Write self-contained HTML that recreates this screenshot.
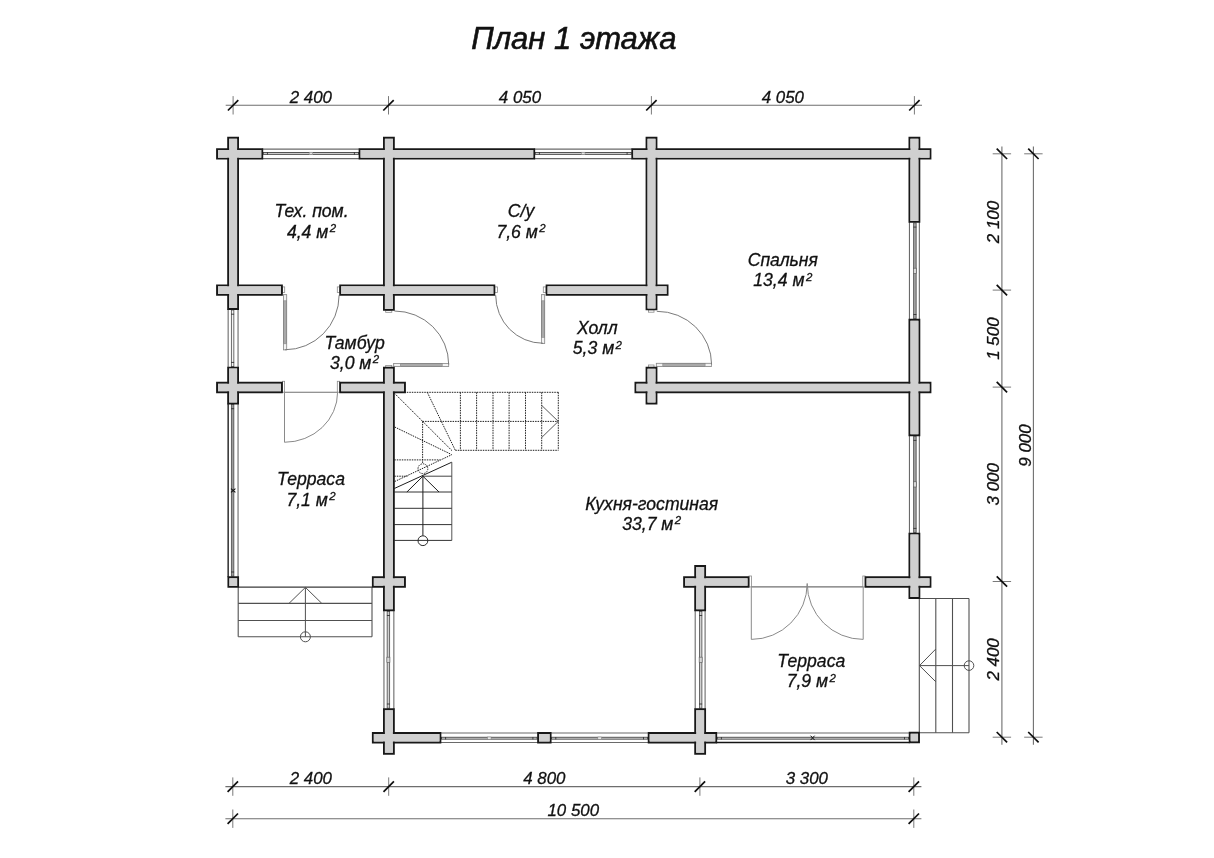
<!DOCTYPE html>
<html><head><meta charset="utf-8"><style>html,body{margin:0;padding:0;background:#fff;}svg{display:block;will-change:transform;}</style></head>
<body><svg width="1214" height="858" viewBox="0 0 1214 858">
<style>
text{font-family:"Liberation Sans",sans-serif;font-style:italic;fill:#111;stroke:#111;stroke-width:0.3px;}
.dm{font-size:16.9px;text-anchor:middle;}
.rm{font-size:17.6px;text-anchor:middle;}
.sup{font-size:11.5px;}
.title{font-size:31px;text-anchor:middle;stroke-width:0.6px;}
</style>
<rect width="1214" height="858" fill="#fff"/>
<text x="573.8" y="48.9" class="title">План 1 этажа</text>
<line x1="225.70" y1="105.30" x2="922.00" y2="105.30" stroke="#6e6e6e" stroke-width="1.1"/><line x1="233.10" y1="96.10" x2="233.10" y2="114.50" stroke="#7a7a7a" stroke-width="1.0"/><line x1="227.90" y1="110.50" x2="238.30" y2="100.10" stroke="#0e0e0e" stroke-width="1.7"/><line x1="388.50" y1="96.10" x2="388.50" y2="114.50" stroke="#7a7a7a" stroke-width="1.0"/><line x1="383.30" y1="110.50" x2="393.70" y2="100.10" stroke="#0e0e0e" stroke-width="1.7"/><line x1="651.40" y1="96.10" x2="651.40" y2="114.50" stroke="#7a7a7a" stroke-width="1.0"/><line x1="646.20" y1="110.50" x2="656.60" y2="100.10" stroke="#0e0e0e" stroke-width="1.7"/><line x1="914.40" y1="96.10" x2="914.40" y2="114.50" stroke="#7a7a7a" stroke-width="1.0"/><line x1="909.20" y1="110.50" x2="919.60" y2="100.10" stroke="#0e0e0e" stroke-width="1.7"/><text x="310.8" y="102.6" class="dm">2 400</text><text x="520.0" y="102.6" class="dm">4 050</text><text x="782.9" y="102.6" class="dm">4 050</text><line x1="225.40" y1="786.60" x2="921.40" y2="786.60" stroke="#6e6e6e" stroke-width="1.1"/><line x1="232.80" y1="777.40" x2="232.80" y2="795.80" stroke="#7a7a7a" stroke-width="1.0"/><line x1="227.60" y1="791.80" x2="238.00" y2="781.40" stroke="#0e0e0e" stroke-width="1.7"/><line x1="388.70" y1="777.40" x2="388.70" y2="795.80" stroke="#7a7a7a" stroke-width="1.0"/><line x1="383.50" y1="791.80" x2="393.90" y2="781.40" stroke="#0e0e0e" stroke-width="1.7"/><line x1="699.90" y1="777.40" x2="699.90" y2="795.80" stroke="#7a7a7a" stroke-width="1.0"/><line x1="694.70" y1="791.80" x2="705.10" y2="781.40" stroke="#0e0e0e" stroke-width="1.7"/><line x1="913.80" y1="777.40" x2="913.80" y2="795.80" stroke="#7a7a7a" stroke-width="1.0"/><line x1="908.60" y1="791.80" x2="919.00" y2="781.40" stroke="#0e0e0e" stroke-width="1.7"/><text x="310.8" y="783.9" class="dm">2 400</text><text x="544.3" y="783.9" class="dm">4 800</text><text x="806.8" y="783.9" class="dm">3 300</text><line x1="225.40" y1="818.70" x2="921.40" y2="818.70" stroke="#6e6e6e" stroke-width="1.1"/><line x1="232.80" y1="809.50" x2="232.80" y2="827.90" stroke="#7a7a7a" stroke-width="1.0"/><line x1="227.60" y1="823.90" x2="238.00" y2="813.50" stroke="#0e0e0e" stroke-width="1.7"/><line x1="913.80" y1="809.50" x2="913.80" y2="827.90" stroke="#7a7a7a" stroke-width="1.0"/><line x1="908.60" y1="823.90" x2="919.00" y2="813.50" stroke="#0e0e0e" stroke-width="1.7"/><text x="573.3" y="816.0" class="dm">10 500</text><line x1="1001.90" y1="146.40" x2="1001.90" y2="744.80" stroke="#6e6e6e" stroke-width="1.1"/><line x1="992.70" y1="153.80" x2="1011.10" y2="153.80" stroke="#7a7a7a" stroke-width="1.0"/><line x1="996.70" y1="148.60" x2="1007.10" y2="159.00" stroke="#0e0e0e" stroke-width="1.7"/><line x1="992.70" y1="290.10" x2="1011.10" y2="290.10" stroke="#7a7a7a" stroke-width="1.0"/><line x1="996.70" y1="284.90" x2="1007.10" y2="295.30" stroke="#0e0e0e" stroke-width="1.7"/><line x1="992.70" y1="387.10" x2="1011.10" y2="387.10" stroke="#7a7a7a" stroke-width="1.0"/><line x1="996.70" y1="381.90" x2="1007.10" y2="392.30" stroke="#0e0e0e" stroke-width="1.7"/><line x1="992.70" y1="581.50" x2="1011.10" y2="581.50" stroke="#7a7a7a" stroke-width="1.0"/><line x1="996.70" y1="576.30" x2="1007.10" y2="586.70" stroke="#0e0e0e" stroke-width="1.7"/><line x1="992.70" y1="737.20" x2="1011.10" y2="737.20" stroke="#7a7a7a" stroke-width="1.0"/><line x1="996.70" y1="732.00" x2="1007.10" y2="742.40" stroke="#0e0e0e" stroke-width="1.7"/><text x="0" y="0" class="dm" transform="translate(999.4 222.0) rotate(-90)">2 100</text><text x="0" y="0" class="dm" transform="translate(999.4 338.6) rotate(-90)">1 500</text><text x="0" y="0" class="dm" transform="translate(999.4 484.3) rotate(-90)">3 000</text><text x="0" y="0" class="dm" transform="translate(999.4 659.4) rotate(-90)">2 400</text><line x1="1033.40" y1="146.40" x2="1033.40" y2="744.80" stroke="#6e6e6e" stroke-width="1.1"/><line x1="1024.20" y1="153.80" x2="1042.60" y2="153.80" stroke="#7a7a7a" stroke-width="1.0"/><line x1="1028.20" y1="148.60" x2="1038.60" y2="159.00" stroke="#0e0e0e" stroke-width="1.7"/><line x1="1024.20" y1="737.20" x2="1042.60" y2="737.20" stroke="#7a7a7a" stroke-width="1.0"/><line x1="1028.20" y1="732.00" x2="1038.60" y2="742.40" stroke="#0e0e0e" stroke-width="1.7"/><text x="0" y="0" class="dm" transform="translate(1030.9 445.5) rotate(-90)">9 000</text>
<line x1="394.30" y1="392.30" x2="558.30" y2="392.30" stroke="#1e1e1e" stroke-width="1.0" stroke-dasharray="1.5 1.0"/><line x1="422.60" y1="421.40" x2="558.30" y2="421.40" stroke="#1e1e1e" stroke-width="1.0" stroke-dasharray="1.5 1.0"/><line x1="455.30" y1="450.30" x2="558.30" y2="450.30" stroke="#1e1e1e" stroke-width="1.0" stroke-dasharray="1.5 1.0"/><line x1="460.40" y1="392.30" x2="460.40" y2="450.30" stroke="#1e1e1e" stroke-width="1.0" stroke-dasharray="1.5 1.0"/><line x1="476.60" y1="392.30" x2="476.60" y2="450.30" stroke="#1e1e1e" stroke-width="1.0" stroke-dasharray="1.5 1.0"/><line x1="493.00" y1="392.30" x2="493.00" y2="450.30" stroke="#1e1e1e" stroke-width="1.0" stroke-dasharray="1.5 1.0"/><line x1="509.10" y1="392.30" x2="509.10" y2="450.30" stroke="#1e1e1e" stroke-width="1.0" stroke-dasharray="1.5 1.0"/><line x1="525.50" y1="392.30" x2="525.50" y2="450.30" stroke="#1e1e1e" stroke-width="1.0" stroke-dasharray="1.5 1.0"/><line x1="541.70" y1="392.30" x2="541.70" y2="450.30" stroke="#1e1e1e" stroke-width="1.0" stroke-dasharray="1.5 1.0"/><line x1="558.30" y1="392.30" x2="558.30" y2="450.30" stroke="#1e1e1e" stroke-width="1.0" stroke-dasharray="1.5 1.0"/><line x1="422.60" y1="421.40" x2="422.60" y2="463.80" stroke="#1e1e1e" stroke-width="1.0" stroke-dasharray="1.5 1.0"/><line x1="394.30" y1="459.90" x2="440.00" y2="459.90" stroke="#1e1e1e" stroke-width="1.0" stroke-dasharray="1.5 1.0"/><line x1="394.30" y1="476.20" x2="407.50" y2="476.20" stroke="#1e1e1e" stroke-width="1.0" stroke-dasharray="1.5 1.0"/><line x1="394.50" y1="393.30" x2="452.00" y2="450.70" stroke="#1e1e1e" stroke-width="1.0" stroke-dasharray="1.5 1.0"/><line x1="427.30" y1="392.30" x2="455.30" y2="450.30" stroke="#1e1e1e" stroke-width="1.0" stroke-dasharray="1.5 1.0"/><line x1="394.70" y1="427.00" x2="451.50" y2="454.50" stroke="#1e1e1e" stroke-width="1.0" stroke-dasharray="1.5 1.0"/><line x1="394.70" y1="481.50" x2="451.80" y2="454.70" stroke="#1e1e1e" stroke-width="1.0" stroke-dasharray="1.5 1.0"/><circle cx="422.9" cy="468.7" r="4.9" fill="none" stroke="#2a2a2a" stroke-width="1" stroke-dasharray="1.5 1.0"/><line x1="541.70" y1="405.40" x2="558.30" y2="421.40" stroke="#444" stroke-width="0.9"/><line x1="541.70" y1="437.50" x2="558.30" y2="421.40" stroke="#444" stroke-width="0.9"/><line x1="394.30" y1="488.50" x2="451.80" y2="462.20" stroke="#1e1e1e" stroke-width="1.0"/><line x1="451.80" y1="462.20" x2="451.80" y2="540.40" stroke="#555" stroke-width="1.0"/><line x1="422.90" y1="476.20" x2="451.80" y2="476.20" stroke="#444" stroke-width="1.0"/><line x1="394.30" y1="492.00" x2="451.80" y2="492.00" stroke="#333" stroke-width="1.0"/><line x1="394.30" y1="508.30" x2="451.80" y2="508.30" stroke="#333" stroke-width="1.0"/><line x1="394.30" y1="524.60" x2="451.80" y2="524.60" stroke="#333" stroke-width="1.0"/><line x1="394.30" y1="540.40" x2="451.80" y2="540.40" stroke="#333" stroke-width="1.0"/><line x1="422.90" y1="476.20" x2="422.90" y2="535.80" stroke="#1e1e1e" stroke-width="1.0"/><circle cx="422.9" cy="540.7" r="4.9" fill="none" stroke="#2a2a2a" stroke-width="1"/><line x1="422.90" y1="476.20" x2="406.90" y2="492.00" stroke="#1e1e1e" stroke-width="1.0"/><line x1="422.90" y1="476.20" x2="439.00" y2="492.00" stroke="#1e1e1e" stroke-width="1.0"/><line x1="238.60" y1="587.10" x2="372.40" y2="587.10" stroke="#3a3a3a" stroke-width="1.3"/><line x1="238.20" y1="603.40" x2="372.00" y2="603.40" stroke="#505050" stroke-width="1.1"/><line x1="238.20" y1="620.50" x2="372.00" y2="620.50" stroke="#505050" stroke-width="1.1"/><line x1="238.20" y1="636.80" x2="372.00" y2="636.80" stroke="#505050" stroke-width="1.1"/><line x1="238.20" y1="587.10" x2="238.20" y2="636.80" stroke="#505050" stroke-width="1.1"/><line x1="372.00" y1="587.30" x2="372.00" y2="636.80" stroke="#505050" stroke-width="1.1"/><line x1="305.40" y1="587.40" x2="305.40" y2="636.80" stroke="#505050" stroke-width="1.0"/><circle cx="305.4" cy="636.8" r="5.0" fill="none" stroke="#505050" stroke-width="1"/><line x1="305.40" y1="587.40" x2="289.00" y2="603.40" stroke="#505050" stroke-width="1.0"/><line x1="305.40" y1="587.40" x2="321.80" y2="603.40" stroke="#505050" stroke-width="1.0"/><line x1="919.50" y1="598.50" x2="969.00" y2="598.50" stroke="#505050" stroke-width="1.1"/><line x1="919.50" y1="732.70" x2="969.00" y2="732.70" stroke="#505050" stroke-width="1.1"/><line x1="919.30" y1="598.50" x2="919.30" y2="732.70" stroke="#505050" stroke-width="1.1"/><line x1="935.80" y1="598.50" x2="935.80" y2="732.70" stroke="#505050" stroke-width="1.1"/><line x1="952.50" y1="598.50" x2="952.50" y2="732.70" stroke="#505050" stroke-width="1.1"/><line x1="969.00" y1="598.50" x2="969.00" y2="732.70" stroke="#505050" stroke-width="1.1"/><line x1="919.50" y1="665.60" x2="969.00" y2="665.60" stroke="#505050" stroke-width="1.0"/><circle cx="969" cy="665.6" r="4.8" fill="none" stroke="#505050" stroke-width="1"/><line x1="919.50" y1="665.60" x2="935.80" y2="649.00" stroke="#505050" stroke-width="1.0"/><line x1="919.50" y1="665.60" x2="935.80" y2="681.80" stroke="#505050" stroke-width="1.0"/>
<line x1="262.25" y1="158.60" x2="359.60" y2="158.60" stroke="#6a6a6a" stroke-width="1.1"/><line x1="262.25" y1="149.10" x2="359.60" y2="149.10" stroke="#6a6a6a" stroke-width="1.1"/><rect x="263.25" y="152.45" width="95.35" height="1.9" fill="#d6d6d6" stroke="#3c3c3c" stroke-width="0.85"/><rect x="309.12" y="152.20" width="3.6" height="2.4" fill="#e8e8e8" stroke="#777" stroke-width="0.5"/><line x1="267.45" y1="152.20" x2="267.45" y2="154.60" stroke="#333" stroke-width="0.9"/><line x1="354.40" y1="152.20" x2="354.40" y2="154.60" stroke="#333" stroke-width="0.9"/><line x1="534.20" y1="158.60" x2="632.30" y2="158.60" stroke="#6a6a6a" stroke-width="1.1"/><line x1="534.20" y1="149.10" x2="632.30" y2="149.10" stroke="#6a6a6a" stroke-width="1.1"/><rect x="535.20" y="152.45" width="96.10" height="1.9" fill="#d6d6d6" stroke="#3c3c3c" stroke-width="0.85"/><rect x="581.45" y="152.20" width="3.6" height="2.4" fill="#e8e8e8" stroke="#777" stroke-width="0.5"/><line x1="539.40" y1="152.20" x2="539.40" y2="154.60" stroke="#333" stroke-width="0.9"/><line x1="627.10" y1="152.20" x2="627.10" y2="154.60" stroke="#333" stroke-width="0.9"/><line x1="909.45" y1="221.90" x2="909.45" y2="319.70" stroke="#6a6a6a" stroke-width="1.1"/><line x1="919.35" y1="221.90" x2="919.35" y2="319.70" stroke="#6a6a6a" stroke-width="1.1"/><rect x="913.65" y="222.90" width="2.5" height="95.80" fill="#a4a4a4" stroke="#4a4a4a" stroke-width="0.8"/><rect x="913.40" y="268.20" width="3.0" height="5.2" fill="#d8d8d8" stroke="#555" stroke-width="0.6"/><line x1="913.40" y1="227.10" x2="916.40" y2="227.10" stroke="#333" stroke-width="0.9"/><line x1="913.40" y1="314.50" x2="916.40" y2="314.50" stroke="#333" stroke-width="0.9"/><line x1="909.45" y1="435.20" x2="909.45" y2="533.60" stroke="#6a6a6a" stroke-width="1.1"/><line x1="919.35" y1="435.20" x2="919.35" y2="533.60" stroke="#6a6a6a" stroke-width="1.1"/><rect x="913.65" y="436.20" width="2.5" height="96.40" fill="#a4a4a4" stroke="#4a4a4a" stroke-width="0.8"/><rect x="913.40" y="481.80" width="3.0" height="5.2" fill="#d8d8d8" stroke="#555" stroke-width="0.6"/><line x1="913.40" y1="440.40" x2="916.40" y2="440.40" stroke="#333" stroke-width="0.9"/><line x1="913.40" y1="528.40" x2="916.40" y2="528.40" stroke="#333" stroke-width="0.9"/><line x1="238.05" y1="309.00" x2="238.05" y2="367.60" stroke="#6a6a6a" stroke-width="1.1"/><line x1="228.15" y1="309.00" x2="228.15" y2="367.60" stroke="#6a6a6a" stroke-width="1.1"/><rect x="231.35" y="310.00" width="2.5" height="56.60" fill="#f4f4f4" stroke="#4a4a4a" stroke-width="0.8"/><line x1="231.10" y1="314.20" x2="234.10" y2="314.20" stroke="#333" stroke-width="0.9"/><line x1="231.10" y1="362.40" x2="234.10" y2="362.40" stroke="#333" stroke-width="0.9"/><line x1="238.05" y1="403.50" x2="238.05" y2="577.20" stroke="#6a6a6a" stroke-width="1.1"/><line x1="228.15" y1="403.50" x2="228.15" y2="577.20" stroke="#161616" stroke-width="1.35"/><rect x="231.35" y="404.50" width="2.5" height="171.70" fill="#9c9c9c" stroke="#4a4a4a" stroke-width="0.8"/><line x1="231.10" y1="408.70" x2="234.10" y2="408.70" stroke="#333" stroke-width="0.9"/><line x1="231.10" y1="572.00" x2="234.10" y2="572.00" stroke="#333" stroke-width="0.9"/><line x1="393.85" y1="610.30" x2="393.85" y2="709.20" stroke="#6a6a6a" stroke-width="1.1"/><line x1="383.95" y1="610.30" x2="383.95" y2="709.20" stroke="#6a6a6a" stroke-width="1.1"/><rect x="387.15" y="611.30" width="2.5" height="96.90" fill="#d0d0d0" stroke="#4a4a4a" stroke-width="0.8"/><rect x="386.90" y="657.15" width="3.0" height="5.2" fill="#d8d8d8" stroke="#555" stroke-width="0.6"/><line x1="386.90" y1="615.50" x2="389.90" y2="615.50" stroke="#333" stroke-width="0.9"/><line x1="386.90" y1="704.00" x2="389.90" y2="704.00" stroke="#333" stroke-width="0.9"/><line x1="695.20" y1="610.30" x2="695.20" y2="709.20" stroke="#6a6a6a" stroke-width="1.1"/><line x1="705.10" y1="610.30" x2="705.10" y2="709.20" stroke="#6a6a6a" stroke-width="1.1"/><rect x="699.40" y="611.30" width="2.5" height="96.90" fill="#d0d0d0" stroke="#4a4a4a" stroke-width="0.8"/><rect x="699.15" y="657.15" width="3.0" height="5.2" fill="#d8d8d8" stroke="#555" stroke-width="0.6"/><line x1="699.15" y1="615.50" x2="702.15" y2="615.50" stroke="#333" stroke-width="0.9"/><line x1="699.15" y1="704.00" x2="702.15" y2="704.00" stroke="#333" stroke-width="0.9"/><line x1="440.40" y1="733.00" x2="538.10" y2="733.00" stroke="#6a6a6a" stroke-width="1.1"/><line x1="440.40" y1="742.50" x2="538.10" y2="742.50" stroke="#6a6a6a" stroke-width="1.1"/><rect x="441.40" y="737.25" width="95.70" height="1.9" fill="#d6d6d6" stroke="#3c3c3c" stroke-width="0.85"/><rect x="487.45" y="737.00" width="3.6" height="2.4" fill="#e8e8e8" stroke="#777" stroke-width="0.5"/><line x1="445.60" y1="737.00" x2="445.60" y2="739.40" stroke="#333" stroke-width="0.9"/><line x1="532.90" y1="737.00" x2="532.90" y2="739.40" stroke="#333" stroke-width="0.9"/><line x1="550.60" y1="733.00" x2="648.70" y2="733.00" stroke="#6a6a6a" stroke-width="1.1"/><line x1="550.60" y1="742.50" x2="648.70" y2="742.50" stroke="#6a6a6a" stroke-width="1.1"/><rect x="551.60" y="737.25" width="96.10" height="1.9" fill="#d6d6d6" stroke="#3c3c3c" stroke-width="0.85"/><rect x="597.85" y="737.00" width="3.6" height="2.4" fill="#e8e8e8" stroke="#777" stroke-width="0.5"/><line x1="555.80" y1="737.00" x2="555.80" y2="739.40" stroke="#333" stroke-width="0.9"/><line x1="643.50" y1="737.00" x2="643.50" y2="739.40" stroke="#333" stroke-width="0.9"/><line x1="716.20" y1="733.00" x2="909.70" y2="733.00" stroke="#6a6a6a" stroke-width="1.1"/><line x1="716.20" y1="742.50" x2="909.70" y2="742.50" stroke="#141414" stroke-width="1.6"/><rect x="717.20" y="737.25" width="191.50" height="1.9" fill="#d6d6d6" stroke="#3c3c3c" stroke-width="0.85"/><line x1="721.40" y1="737.00" x2="721.40" y2="739.40" stroke="#333" stroke-width="0.9"/><line x1="904.50" y1="737.00" x2="904.50" y2="739.40" stroke="#333" stroke-width="0.9"/><line x1="231.00" y1="488.60" x2="235.40" y2="492.40" stroke="#111" stroke-width="1.1"/><line x1="231.00" y1="492.40" x2="235.40" y2="488.60" stroke="#111" stroke-width="1.1"/><line x1="810.60" y1="735.70" x2="814.60" y2="740.10" stroke="#111" stroke-width="1.0"/><line x1="810.60" y1="740.10" x2="814.60" y2="735.70" stroke="#111" stroke-width="1.0"/>
<rect x="282.40" y="286.90" width="2.30" height="5.60" fill="#fff" stroke="#8a8a8a" stroke-width="0.8"/><rect x="337.30" y="286.90" width="2.40" height="5.60" fill="#fff" stroke="#8a8a8a" stroke-width="0.8"/><rect x="283.50" y="294.80" width="3.20" height="55.00" fill="#a9a9a9" stroke="#777" stroke-width="0.8"/><rect x="283.50" y="294.80" width="3.20" height="6" fill="#f2f2f2" stroke="#888" stroke-width="0.6"/><rect x="283.50" y="343.80" width="3.20" height="6" fill="#f2f2f2" stroke="#888" stroke-width="0.6"/><path d="M339.10 295.25A54.00 54.50 0 0 1 285.10 349.75" fill="none" stroke="#7a7a7a" stroke-width="1.0"/><rect x="385.70" y="310.40" width="6.10" height="1.90" fill="#fff" stroke="#8a8a8a" stroke-width="0.8"/><rect x="385.70" y="365.40" width="6.10" height="1.90" fill="#fff" stroke="#8a8a8a" stroke-width="0.8"/><rect x="393.80" y="363.50" width="54.90" height="2.90" fill="#a9a9a9" stroke="#777" stroke-width="0.8"/><rect x="393.80" y="363.50" width="6.5" height="2.90" fill="#f2f2f2" stroke="#888" stroke-width="0.6"/><rect x="442.20" y="363.50" width="6.5" height="2.90" fill="#f2f2f2" stroke="#888" stroke-width="0.6"/><path d="M394.40 311.00A54.30 53.50 0 0 1 448.70 364.50" fill="none" stroke="#7a7a7a" stroke-width="1.0"/><rect x="282.40" y="381.30" width="2.20" height="10.90" fill="#fff" stroke="#8a8a8a" stroke-width="0.8"/><rect x="337.30" y="381.30" width="2.40" height="10.90" fill="#fff" stroke="#8a8a8a" stroke-width="0.8"/><line x1="284.60" y1="392.25" x2="337.60" y2="392.25" stroke="#707070" stroke-width="1.1"/><line x1="284.50" y1="392.25" x2="284.50" y2="442.30" stroke="#8a8a8a" stroke-width="1.0"/><path d="M337.60 392.25A53.10 50.00 0 0 1 284.50 442.25" fill="none" stroke="#8a8a8a" stroke-width="1.0"/><rect x="494.80" y="286.90" width="2.80" height="5.60" fill="#fff" stroke="#8a8a8a" stroke-width="0.8"/><rect x="543.30" y="286.90" width="2.80" height="5.60" fill="#fff" stroke="#8a8a8a" stroke-width="0.8"/><rect x="541.40" y="294.80" width="3.30" height="48.50" fill="#a9a9a9" stroke="#777" stroke-width="0.8"/><rect x="541.40" y="294.80" width="3.30" height="6" fill="#f2f2f2" stroke="#888" stroke-width="0.6"/><rect x="541.40" y="337.30" width="3.30" height="6" fill="#f2f2f2" stroke="#888" stroke-width="0.6"/><path d="M543.00 343.25A47.30 48.00 0 0 1 495.70 295.25" fill="none" stroke="#7a7a7a" stroke-width="1.0"/><rect x="648.40" y="309.90" width="5.60" height="2.30" fill="#fff" stroke="#8a8a8a" stroke-width="0.8"/><rect x="648.40" y="365.00" width="5.60" height="2.30" fill="#fff" stroke="#8a8a8a" stroke-width="0.8"/><rect x="656.30" y="363.30" width="55.30" height="3.10" fill="#a9a9a9" stroke="#777" stroke-width="0.8"/><rect x="656.30" y="363.30" width="6.5" height="3.10" fill="#f2f2f2" stroke="#888" stroke-width="0.6"/><rect x="705.10" y="363.30" width="6.5" height="3.10" fill="#f2f2f2" stroke="#888" stroke-width="0.6"/><path d="M656.80 311.30A54.80 53.20 0 0 1 711.60 364.50" fill="none" stroke="#7a7a7a" stroke-width="1.0"/><rect x="749.00" y="576.00" width="2.50" height="10.90" fill="#fff" stroke="#8a8a8a" stroke-width="0.8"/><rect x="862.80" y="576.00" width="2.30" height="10.90" fill="#fff" stroke="#8a8a8a" stroke-width="0.8"/><line x1="751.50" y1="586.90" x2="862.80" y2="586.90" stroke="#707070" stroke-width="1.1"/><line x1="751.30" y1="586.90" x2="751.30" y2="639.40" stroke="#8a8a8a" stroke-width="1.0"/><line x1="863.20" y1="586.90" x2="863.20" y2="639.40" stroke="#8a8a8a" stroke-width="1.0"/><path d="M807.20 583.50A55.90 55.90 0 0 1 751.30 639.40" fill="none" stroke="#8a8a8a" stroke-width="1.0"/><path d="M863.20 639.40A56.00 55.90 0 0 1 807.20 583.50" fill="none" stroke="#8a8a8a" stroke-width="1.0"/>
<path d="M217.05 149.10H262.25V158.60H217.05ZM359.60 149.10H534.20V158.60H359.60ZM632.30 149.10H930.45V158.60H632.30ZM228.15 137.80H238.05V309.00H228.15ZM383.95 137.80H393.85V309.90H383.95ZM646.55 137.80H656.45V309.40H646.55ZM909.45 137.80H919.35V221.90H909.45ZM217.05 285.35H281.90V294.85H217.05ZM340.20 285.35H494.30V294.85H340.20ZM546.60 285.35H667.55V294.85H546.60ZM228.15 367.60H238.05V403.50H228.15ZM217.05 382.70H281.90V392.20H217.05ZM340.20 382.70H404.95V392.20H340.20ZM635.45 382.70H930.45V392.20H635.45ZM383.95 367.80H393.85V610.30H383.95ZM646.55 367.80H656.45V403.50H646.55ZM909.45 319.70H919.35V435.20H909.45ZM909.45 533.60H919.35V598.00H909.45ZM372.85 577.25H404.95V586.75H372.85ZM684.10 577.25H748.50V586.75H684.10ZM865.60 577.25H930.45V586.75H865.60ZM695.20 565.95H705.10V610.30H695.20ZM228.40 577.20H238.10V586.90H228.40ZM372.85 733.00H440.40V742.50H372.85ZM383.95 709.20H393.85V753.80H383.95ZM538.10 733.00H550.60V742.50H538.10ZM648.70 733.00H716.20V742.50H648.70ZM695.20 709.20H705.10V753.80H695.20ZM909.70 732.70H919.00V742.30H909.70Z" fill="#d0d0d0" stroke="#181818" stroke-width="1.9"/><path d="M218.00 150.05H261.30V157.65H218.00ZM360.55 150.05H533.25V157.65H360.55ZM633.25 150.05H929.50V157.65H633.25ZM229.10 138.75H237.10V308.05H229.10ZM384.90 138.75H392.90V308.95H384.90ZM647.50 138.75H655.50V308.45H647.50ZM910.40 138.75H918.40V220.95H910.40ZM218.00 286.30H280.95V293.90H218.00ZM341.15 286.30H493.35V293.90H341.15ZM547.55 286.30H666.60V293.90H547.55ZM229.10 368.55H237.10V402.55H229.10ZM218.00 383.65H280.95V391.25H218.00ZM341.15 383.65H404.00V391.25H341.15ZM636.40 383.65H929.50V391.25H636.40ZM384.90 368.75H392.90V609.35H384.90ZM647.50 368.75H655.50V402.55H647.50ZM910.40 320.65H918.40V434.25H910.40ZM910.40 534.55H918.40V597.05H910.40ZM373.80 578.20H404.00V585.80H373.80ZM685.05 578.20H747.55V585.80H685.05ZM866.55 578.20H929.50V585.80H866.55ZM696.15 566.90H704.15V609.35H696.15ZM229.35 578.15H237.15V585.95H229.35ZM373.80 733.95H439.45V741.55H373.80ZM384.90 710.15H392.90V752.85H384.90ZM539.05 733.95H549.65V741.55H539.05ZM649.65 733.95H715.25V741.55H649.65ZM696.15 710.15H704.15V752.85H696.15ZM910.65 733.65H918.05V741.35H910.65Z" fill="#d0d0d0"/>
<text x="311.5" y="217.4" class="rm">Тех. пом.</text><text x="311.5" y="237.8" class="rm">4,4 м<tspan class="sup" dx="1.4" dy="-5.9">2</tspan></text><text x="521" y="217.4" class="rm">С/у</text><text x="521" y="237.8" class="rm">7,6 м<tspan class="sup" dx="1.4" dy="-5.9">2</tspan></text><text x="782.8" y="266" class="rm">Спальня</text><text x="782.8" y="286.4" class="rm">13,4 м<tspan class="sup" dx="1.4" dy="-5.9">2</tspan></text><text x="354.6" y="348.6" class="rm">Тамбур</text><text x="354.6" y="368.6" class="rm">3,0 м<tspan class="sup" dx="1.4" dy="-5.9">2</tspan></text><text x="597.4" y="334" class="rm">Холл</text><text x="597.4" y="354.4" class="rm">5,3 м<tspan class="sup" dx="1.4" dy="-5.9">2</tspan></text><text x="311" y="484.6" class="rm">Терраса</text><text x="311" y="505.6" class="rm">7,1 м<tspan class="sup" dx="1.4" dy="-5.9">2</tspan></text><text x="651.7" y="509.7" class="rm">Кухня-гостиная</text><text x="651.7" y="530.1" class="rm">33,7 м<tspan class="sup" dx="1.4" dy="-5.9">2</tspan></text><text x="811.3" y="667" class="rm">Терраса</text><text x="811.3" y="687.4" class="rm">7,9 м<tspan class="sup" dx="1.4" dy="-5.9">2</tspan></text>
</svg></body></html>
